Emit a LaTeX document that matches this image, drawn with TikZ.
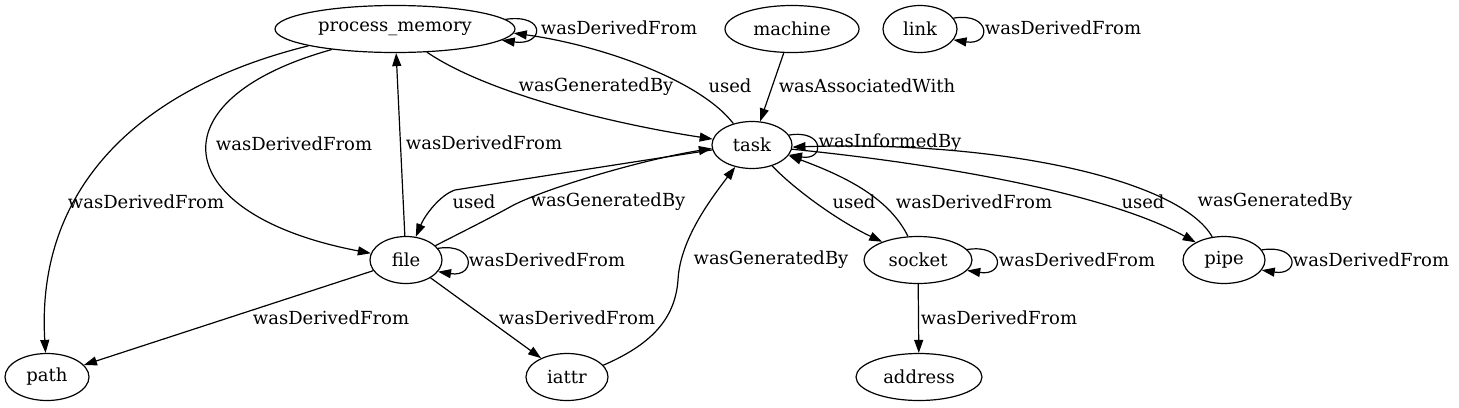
\documentclass[tikz,border=0pt]{standalone}
\usepackage{fontspec}
\setmainfont{DejaVu Serif}
\usetikzlibrary{shapes.geometric,arrows.meta}
\tikzset{
  gnode/.style={ellipse, draw, line width=1.2pt, inner sep=0pt, minimum height=47pt},
  arr/.style={line width=1.2pt, -{Triangle[length=13pt,width=9pt]}},
  lbl/.style={inner sep=0pt, anchor=center},
  every node/.style={font=\fontsize{18pt}{21pt}\selectfont}
}
\begin{document}
\begin{tikzpicture}[x=1pt,y=-1pt]
\useasboundingbox (0,0) rectangle (1459,407);
% nodes
\node[gnode, minimum width=240pt] (pm) at (395,29) {process\_memory};
\node[gnode, minimum width=134pt] (machine) at (792,29) {machine};
\node[gnode, minimum width=74pt] (link) at (920,29) {link};
\node[gnode, minimum width=80pt] (task) at (752,145) {task};
\node[gnode, minimum width=72pt] (file) at (406,260) {file};
\node[gnode, minimum width=108pt] (socket) at (918,260) {socket};
\node[gnode, minimum width=82pt] (pipe) at (1224,260) {pipe};
\node[gnode, minimum width=84pt] (path) at (47,377) {path};
\node[gnode, minimum width=82pt] (iattr) at (567,377) {iattr};
\node[gnode, minimum width=126pt] (address) at (919,377) {address};
% edges
\draw[arr] (pm.5) .. controls +(42,-6) and +(42,6) .. (pm.-6);
\draw[arr] (pm.191) .. controls (130,90) and (36,195) .. (path);
\draw[arr] (pm.198) .. controls (150,100) and (170,215) .. (file);
\draw[arr] (file) -- (pm);
\draw[arr] (pm.-36) .. controls (490,95) and (620,125) .. (task);
\draw[arr] (task.131) .. controls (700,80) and (600,45) .. (pm.-2);
\draw[arr] (machine) -- (task);
\draw[arr] (link.18) .. controls +(38,-6) and +(38,6) .. (link.-18);
\draw[arr] (task.15) .. controls +(36,-6) and +(36,6) .. (task.-15);
\draw[arr] (task.187) .. controls (620,164) and (480,186) .. (455,190) .. controls (440,195) and (425,215) .. (file);
\draw[arr] (file.26) .. controls (470,228) and (490,218) .. (510,207) .. controls (540,190) and (640,160) .. (task.185);
\draw[arr] (file.20) .. controls +(38,-6) and +(38,6) .. (file.-20);
\draw[arr] (file) -- (path);
\draw[arr] (file) -- (iattr);
\draw[arr] (iattr.18) .. controls (650,345) and (675,320) .. (678,280) .. controls (680,240) and (710,200) .. (task);
\draw[arr] (task.-46) .. controls (795,190) and (840,222) .. (socket.153);
\draw[arr] (socket.113) .. controls (890,200) and (850,178) .. (task.-16);
\draw[arr] (socket.12) .. controls +(38,-6) and +(38,6) .. (socket.-12);
\draw[arr] (socket) -- (address);
\draw[arr] (task.-6) .. controls (950,165) and (1110,195) .. (pipe.148);
\draw[arr] (pipe.117) .. controls (1180,180) and (1000,140) .. (task.-3);
\draw[arr] (pipe.15) .. controls +(38,-6) and +(38,6) .. (pipe.-15);
% labels
\node[lbl] (l1) at (619,28) {wasDerivedFrom};
\node[lbl] (l2) at (146,202) {wasDerivedFrom};
\node[lbl] (l3) at (294,144) {wasDerivedFrom};
\node[lbl] (l4) at (484,143) {wasDerivedFrom};
\node[lbl] (l5) at (596,87) {wasGeneratedBy};
\node[lbl] (l6) at (730,86) {used};
\node[lbl] (l7) at (867,86) {wasAssociatedWith};
\node[lbl] (l8) at (1063,28) {wasDerivedFrom};
\node[lbl] (l9) at (890,143) {wasInformedBy};
\node[lbl] (l10) at (474,202) {used};
\node[lbl] (l11) at (608,202) {wasGeneratedBy};
\node[lbl] (l12) at (547,260) {wasDerivedFrom};
\node[lbl] (l13) at (331,318) {wasDerivedFrom};
\node[lbl] (l14) at (577,318) {wasDerivedFrom};
\node[lbl] (l15) at (771,260) {wasGeneratedBy};
\node[lbl] (l16) at (854,202) {used};
\node[lbl] (l17) at (974,202) {wasDerivedFrom};
\node[lbl] (l18) at (1077,260) {wasDerivedFrom};
\node[lbl] (l19) at (999,318) {wasDerivedFrom};
\node[lbl] (l20) at (1143,202) {used};
\node[lbl] (l21) at (1275,202) {wasGeneratedBy};
\node[lbl] (l22) at (1371,260) {wasDerivedFrom};
\end{tikzpicture}
\end{document}
